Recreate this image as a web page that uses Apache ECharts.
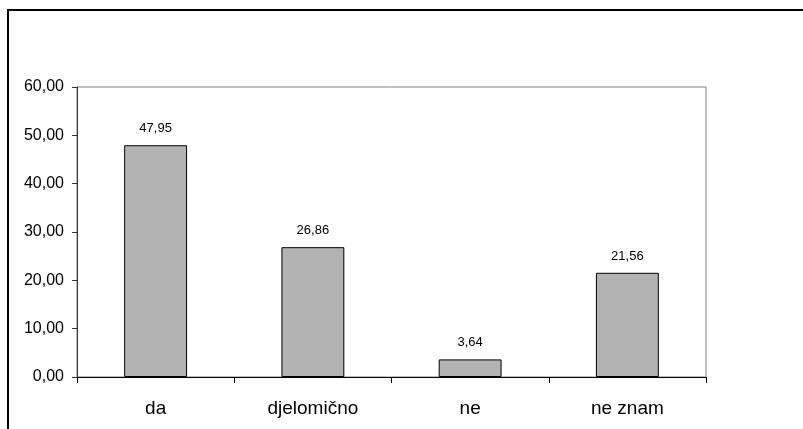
<!DOCTYPE html>
<html>
<head>
<meta charset="utf-8">
<script src="https://cdn.jsdelivr.net/npm/echarts@6/dist/echarts.min.js"></script>
<style>
html,body{margin:0;padding:0;background:#fff;}
#chart{width:803px;height:429px;}
</style>
</head>
<body>
<div id="chart"></div>
<script>
var categories = ['da', 'djelomično', 'ne', 'ne znam'];
var values = [47.95, 26.86, 3.64, 21.56];
var yMin = 0, yMax = 60, yInterval = 10;

function fmt(v) { return Number(v).toFixed(2).replace('.', ','); }

var chart = echarts.init(document.getElementById('chart'), null, {renderer: 'canvas'});
chart.setOption({
  animation: false,
  backgroundColor: '#ffffff',
  textStyle: {fontFamily: 'Liberation Sans, Arial, sans-serif', color: '#000'},
  graphic: [{
    type: 'rect',
    shape: {x: 8, y: 10, width: 900, height: 500},
    style: {fill: 'none', stroke: '#000', lineWidth: 2},
    silent: true
  }],
  grid: {
    left: 77, top: 87, right: 97, bottom: 52,
    show: true, borderColor: '#808080', borderWidth: 1, backgroundColor: 'transparent'
  },
  xAxis: {
    type: 'category',
    data: categories,
    boundaryGap: true,
    axisLine: {show: true, lineStyle: {color: '#000', width: 1}},
    axisTick: {show: true, length: 6, alignWithLabel: false, lineStyle: {color: '#000'}},
    axisLabel: {fontSize: 19, color: '#000', margin: 22, fontFamily: 'Liberation Sans, Arial, sans-serif'},
    splitLine: {show: false}
  },
  yAxis: {
    type: 'value',
    min: yMin, max: yMax, interval: yInterval,
    axisLine: {show: true, lineStyle: {color: '#333', width: 1}},
    axisTick: {show: true, length: 5, lineStyle: {color: '#333'}},
    axisLabel: {fontSize: 16, color: '#000', margin: 13, formatter: fmt, fontFamily: 'Liberation Sans, Arial, sans-serif'},
    splitLine: {show: false}
  },
  series: [{
    type: 'bar',
    data: values,
    barWidth: '40%',
    itemStyle: {color: '#b3b3b3', borderColor: '#000', borderWidth: 1},
    label: {
      show: true, position: 'top', distance: 10,
      fontSize: 13, color: '#000',
      fontFamily: 'Liberation Sans, Arial, sans-serif',
      formatter: function (p) { return fmt(p.value); }
    }
  }]
});
</script>
</body>
</html>
